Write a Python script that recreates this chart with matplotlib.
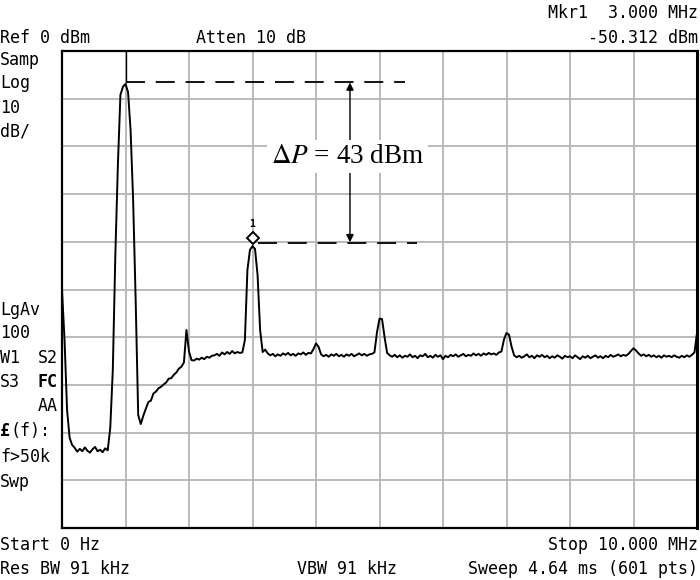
# -*- coding: utf-8 -*-
import numpy as np
import matplotlib
matplotlib.use('Agg')
import matplotlib.pyplot as plt

# sweep 0..10 MHz, levels (dBm, 10 dB/div, ref 0 dBm)
freqs = np.linspace(0.0, 10.0, 251)
levels = [
    -50.1, -60.6, -75.3, -81.1, -82.6, -83.2, -84.0, -83.4, -83.9, -83.1,
    -83.8, -84.2, -83.5, -83.0, -83.9, -83.6, -84.1, -83.3, -83.7, -79.0,
    -66.9, -42.8, -23.9, -9.2, -7.5, -6.9, -8.6, -16.6, -31.2, -52.2,
    -76.3, -78.2, -76.5, -75.0, -73.6, -73.3, -71.8, -71.4, -70.7, -70.4,
    -69.9, -69.5, -68.7, -68.6, -67.9, -67.4, -66.6, -66.2, -65.3, -58.5,
    -63.0, -64.8, -64.9, -64.5, -64.7, -64.3, -64.6, -64.1, -64.3, -63.9,
    -63.8, -63.5, -63.9, -63.2, -63.6, -63.1, -63.5, -62.9, -63.4, -63.1,
    -63.3, -63.2, -60.6, -45.9, -41.7, -40.9, -41.5, -47.0, -58.5, -63.1,
    -62.6, -63.4, -63.8, -63.5, -64.0, -63.6, -63.9, -63.4, -63.7, -63.3,
    -63.8, -63.5, -63.9, -63.4, -63.6, -63.2, -63.7, -63.3, -63.4, -62.5,
    -61.3, -62.0, -63.6, -64.0, -63.7, -64.1, -63.6, -63.9, -63.5, -64.0,
    -63.7, -64.1, -63.6, -63.9, -63.5, -64.0, -63.7, -63.4, -63.8, -63.5,
    -63.9, -63.6, -63.5, -63.2, -59.0, -56.1, -56.2, -60.0, -63.3, -63.8,
    -64.1, -63.7, -64.2, -63.8, -64.3, -63.9, -64.1, -63.6, -64.2, -63.9,
    -64.4, -63.8, -64.0, -63.5, -64.2, -63.9, -64.3, -63.7, -64.1, -63.8,
    -64.6, -63.9, -64.2, -63.7, -64.0, -63.6, -64.1, -63.8, -63.5, -64.0,
    -63.7, -63.9, -63.4, -63.8, -63.5, -63.9, -63.4, -63.7, -63.3, -63.6,
    -63.4, -63.7, -63.2, -63.0, -60.5, -59.1, -59.5, -62.0, -63.8, -64.2,
    -63.9, -64.3, -64.0, -63.6, -64.2, -63.9, -64.4, -63.8, -64.1, -63.7,
    -64.2, -63.9, -64.4, -64.0, -64.3, -63.8, -64.1, -64.5, -63.9, -64.2,
    -64.0, -64.4, -63.8, -64.2, -64.6, -64.0, -64.3, -63.9, -64.4, -64.1,
    -63.8, -64.3, -64.0, -64.4, -63.9, -64.2, -63.7, -64.1, -63.9, -63.6,
    -64.0, -63.7, -63.9, -63.5, -62.9, -62.3, -62.8, -63.4, -63.9, -63.6,
    -64.0, -63.7, -64.1, -63.8, -64.2, -63.9, -64.3, -63.8, -64.1, -63.9,
    -64.2, -63.8, -64.1, -64.3, -63.9, -64.2, -63.8, -64.1, -63.7, -63.2,
    -59.1,
]

carrier_freq = 1.0
carrier_level = -6.5
mkr_freq = 3.0
mkr_level = -40.3
mkr_symbol = -39.3
arrow_freq = 4.535
top_dash_end = 5.4
low_dash_start = 3.08
low_dash_end = 5.59
delta_text = r'$\Delta P$ = 43 dBm'

header_left = ['Samp', 'Log', '10', 'dB/']
header_left_y = [60, 83, 108, 132]

W, H = 700, 580
fig = plt.figure(figsize=(7, 5.8), dpi=100)
ax = fig.add_axes([62 / W, 52 / H, 635 / W, 477 / H])

ax.plot(freqs, levels, color='k', lw=1.4, zorder=3)
ax.set_xlim(0, 10)
ax.set_ylim(-100, 0)
ax.set_xticks(np.arange(1, 10))
ax.set_yticks(np.arange(-90, 0, 10))
ax.tick_params(length=0, labelbottom=False, labelleft=False)
ax.grid(True, color='#b4b4b4', lw=1.3)
ax.set_axisbelow(True)
for s in ax.spines.values():
    s.set_linewidth(1.6)
ax.spines['right'].set_linewidth(2.2)

# reference line to carrier and the two level lines
ax.plot([carrier_freq, carrier_freq], [0, carrier_level], color='k', lw=1.0, zorder=3)
ax.plot([carrier_freq, top_dash_end], [carrier_level, carrier_level], color='k', lw=1.3,
        ls=(0, (10.5, 6)), zorder=3)
ax.plot([low_dash_start, low_dash_end], [mkr_level, mkr_level], color='k', lw=1.3,
        ls=(0, (10.5, 6)), zorder=3)

# marker 1
ax.plot([mkr_freq], [mkr_symbol], marker='D', ms=6, mfc='white', mec='k', mew=1.4, zorder=4)
ax.text(mkr_freq, mkr_symbol + 3.0, '1', ha='center', va='center', fontsize=7,
        family='DejaVu Sans Mono', fontweight='bold')

ax.annotate('', xy=(arrow_freq, carrier_level - 0.1), xytext=(arrow_freq, mkr_level + 0.2),
            arrowprops=dict(arrowstyle='<|-|>', color='k', lw=1.0, mutation_scale=11,
                            shrinkA=0, shrinkB=0), zorder=4)
plt.rcParams['mathtext.fontset'] = 'stix'
ax.text(4.50, -22.2, delta_text, ha='center', va='center', fontsize=19.5,
        family='Liberation Serif', zorder=5,
        bbox=dict(facecolor='white', edgecolor='none', pad=3))


def label(x, y, s, ha='left', weight='normal'):
    fig.text(x / W, 1 - y / H, s, ha=ha, va='center', fontsize=12,
             family='DejaVu Sans Mono', fontweight=weight)


label(0, 38, 'Ref 0 dBm')
label(196, 38, 'Atten 10 dB')
label(698, 13, 'Mkr1  3.000 MHz', ha='right')
label(698, 38, '-50.312 dBm', ha='right')
for s, y in zip(header_left, header_left_y):
    label(0, y, s)
label(0, 310, 'LgAv')
label(0, 333, '100')
label(0, 358, 'W1')
label(58, 358, 'S2', ha='right')
label(0, 382, 'S3')
label(58, 382, 'FC', ha='right', weight='bold')
label(58, 406, 'AA', ha='right')
label(0, 431, '£', weight='bold')
label(10, 431, '(f):')
label(0, 457, 'f>50k')
label(0, 482, 'Swp')
label(0, 545, 'Start 0 Hz')
label(698, 545, 'Stop 10.000 MHz', ha='right')
label(0, 569, 'Res BW 91 kHz')
label(297, 569, 'VBW 91 kHz')
label(698, 569, 'Sweep 4.64 ms (601 pts)', ha='right')

fig.savefig('out.png', dpi=100)
